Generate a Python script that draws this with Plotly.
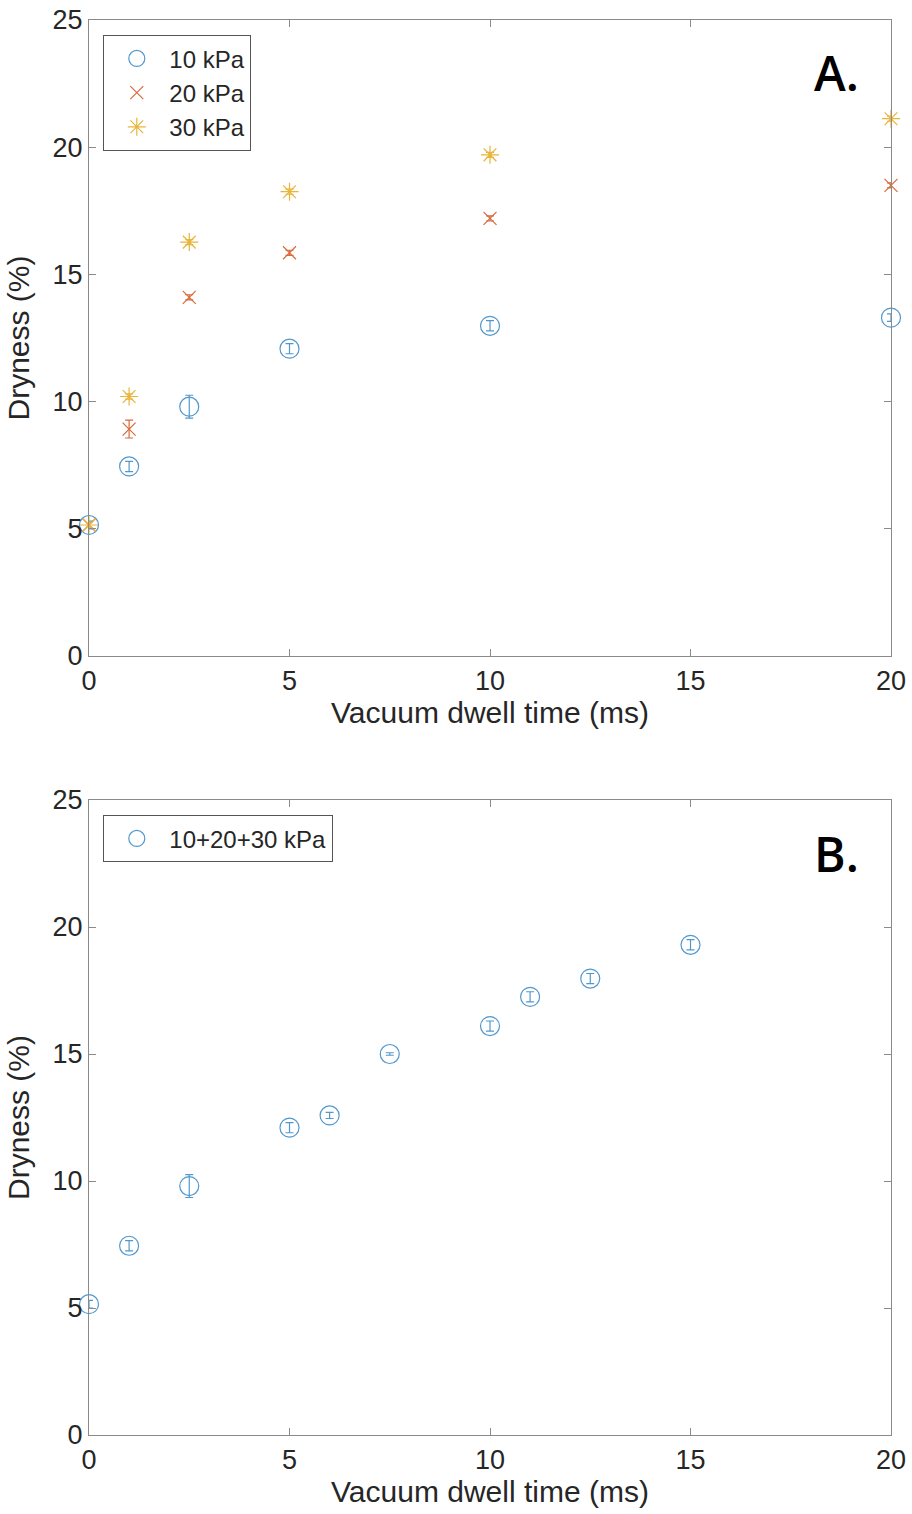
import plotly.graph_objects as go

# Panel A data
t_a = [0, 1, 2.5, 5, 10, 20]
d10 = [5.15, 7.45, 9.8, 12.08, 12.98, 13.3]
e10 = [0.15, 0.2, 0.45, 0.2, 0.2, 0.15]
d20 = [5.15, 8.92, 14.1, 15.85, 17.2, 18.5]
e20 = [0.1, 0.35, 0.1, 0.1, 0.1, 0.1]
d30 = [5.15, 10.2, 16.27, 18.25, 19.7, 21.12]
e30 = [0.1, 0.1, 0.1, 0.1, 0.1, 0.1]

# Panel B data
t_b = [0, 1, 2.5, 5, 6, 7.5, 10, 11, 12.5, 15]
d_all = [5.15, 7.45, 9.8, 12.1, 12.58, 15.0, 16.1, 17.25, 17.97, 19.3]
e_all = [0.15, 0.2, 0.45, 0.2, 0.12, 0.05, 0.2, 0.2, 0.2, 0.2]

names_a = ["10 kPa", "20 kPa", "30 kPa"]
name_b = "10+20+30 kPa"
xticks = [0, 5, 10, 15, 20]
yticks = [0, 5, 10, 15, 20, 25]

BLUE = "#5298cd"
ORANGE = "#d86a3a"
YELLOW = "#e8b43a"
AX = "#8a8a8a"
TXT = "#262626"
FONT = "Liberation Sans, Arial, sans-serif"

W, H = 912, 1514

fig = go.Figure()

def add(x, y, e, name, color, symbol, size, xa, ya, legend):
    fig.add_trace(go.Scatter(
        x=x, y=y, mode="markers", name=name, cliponaxis=False,
        marker=dict(symbol=symbol, size=size, color=color,
                    line=dict(color=color, width=1.2)),
        error_y=dict(type="data", array=e, visible=True, color=color,
                     thickness=1.2, width=4),
        xaxis=xa, yaxis=ya, legend=legend))

add(t_a, d10, e10, names_a[0], BLUE, "circle-open", 19, "x", "y", "legend")
add(t_a, d20, e20, names_a[1], ORANGE, "x-thin-open", 13, "x", "y", "legend")
add(t_a, d30, e30, names_a[2], YELLOW, "asterisk-open", 15, "x", "y", "legend")
add(t_b, d_all, e_all, name_b, BLUE, "circle-open", 19, "x2", "y2", "legend2")

axis_common = dict(
    showline=True, linecolor=AX, linewidth=1.3, mirror="ticks",
    ticks="inside", ticklen=7, tickcolor=AX, tickwidth=1,
    showgrid=False, zeroline=False, automargin=False,
    tickfont=dict(family=FONT, size=27, color=TXT),
)

x_dom = [89 / W, 891 / W]
ya_dom = [1 - 656 / H, 1 - 20 / H]
yb_dom = [1 - 1435 / H, 1 - 800 / H]

title_font = dict(family=FONT, size=30, color=TXT)

label_font = dict(family="Open Sans, Lato, sans-serif", size=48, color="black", weight=600)

fig.update_layout(
    width=W, height=H,
    margin=dict(l=0, r=0, t=0, b=0),
    paper_bgcolor="white", plot_bgcolor="white",
    showlegend=True,
    xaxis=dict(domain=x_dom, range=[0, 20], tickvals=xticks, anchor="y",
               title=dict(text="Vacuum dwell time (ms)", font=title_font, standoff=6),
               **axis_common),
    yaxis=dict(domain=ya_dom, range=[0, 25], tickvals=yticks, anchor="x",
               title=dict(text="Dryness (%)", font=title_font, standoff=13),
               **axis_common),
    xaxis2=dict(domain=x_dom, range=[0, 20], tickvals=xticks, anchor="y2",
                title=dict(text="Vacuum dwell time (ms)", font=title_font, standoff=6),
                **axis_common),
    yaxis2=dict(domain=yb_dom, range=[0, 25], tickvals=yticks, anchor="x2",
                title=dict(text="Dryness (%)", font=title_font, standoff=13),
                **axis_common),
    legend=dict(x=103 / W, y=1 - 35 / H, xanchor="left", yanchor="top",
                bgcolor="white", bordercolor="#555555", borderwidth=1.3,
                font=dict(family=FONT, size=24, color=TXT),
                itemwidth=55, tracegroupgap=0),
    legend2=dict(x=103 / W, y=1 - 815 / H, xanchor="left", yanchor="top",
                 bgcolor="white", bordercolor="#555555", borderwidth=1.3,
                 font=dict(family=FONT, size=24, color=TXT),
                 itemwidth=55),
    annotations=[
        dict(text="A.", x=836 / W, y=1 - 73 / H, xref="paper", yref="paper",
             xanchor="center", yanchor="middle", showarrow=False, font=label_font),
        dict(text="B.", x=836 / W, y=1 - 853 / H, xref="paper", yref="paper",
             xanchor="center", yanchor="middle", showarrow=False, font=label_font),
    ],
)

fig.write_html("out.html", config={"displayModeBar": False},
               post_script="document.body.style.margin='0';document.body.style.overflow='hidden';")
